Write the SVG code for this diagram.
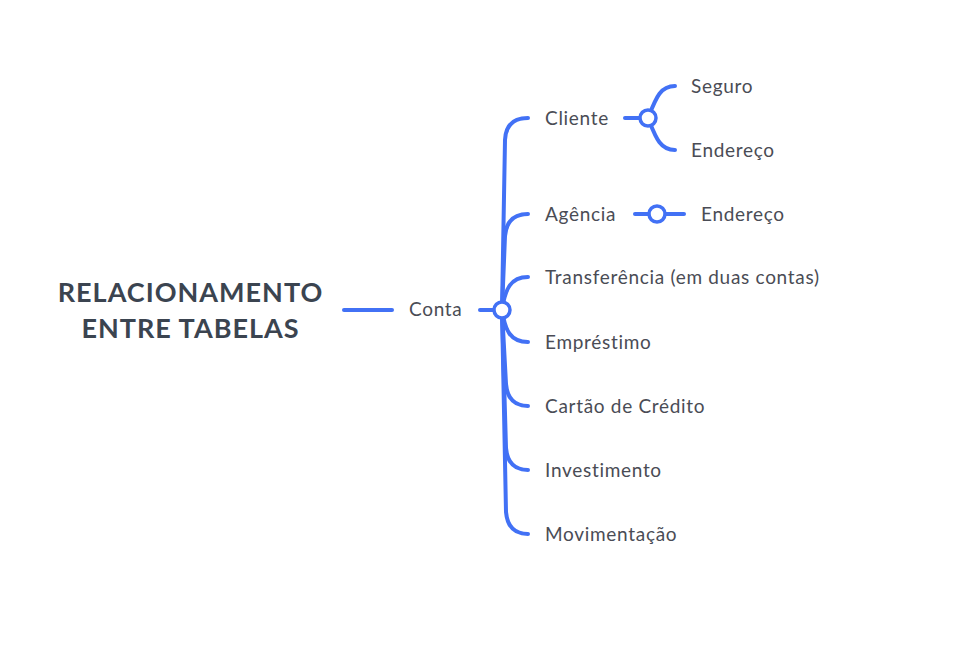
<svg xmlns="http://www.w3.org/2000/svg" width="972" height="652" viewBox="0 0 972 652">
<style>
.c{fill:none;stroke:#4271f5;stroke-width:4;stroke-linecap:round}
.k{fill:#fff;stroke:#4271f5;stroke-width:3.5}
.t{font-family:Lato,"Noto Sans",sans-serif;font-size:19px;letter-spacing:0.7px;fill:#4a4c55}
.h{font-family:Lato,"Noto Sans",sans-serif;font-size:27px;letter-spacing:1px;font-weight:bold;fill:#3b4450;text-anchor:middle}
</style>
<rect width="972" height="652" fill="#fff"/>
<g id="connectors">
<path class="c" d="M344 310 H392"/>
<path class="c" d="M480 310 H494"/>
<path class="c" d="M502 310 L505 140 Q506 118 528 118"/>
<path class="c" d="M502 310 L505 236 Q507 214 528 214"/>
<path class="c" d="M502 310 C505 290 510 277 528 277"/>
<path class="c" d="M502 310 C505 330 510 342 528 342"/>
<path class="c" d="M502 310 L506 384 Q508 406 528 406"/>
<path class="c" d="M502 310 L506 448 Q508 470 528 470"/>
<path class="c" d="M502 310 L506 512 Q508 534 528 534"/>
<path class="c" d="M625 118 H640"/>
<path class="c" d="M648 118 C656 98 660 86 675 86"/>
<path class="c" d="M648 118 C656 138 660 150 675 150"/>
<path class="c" d="M635 214 H684"/>
</g>
<g id="root"><text class="h" x="190.5" y="302">RELACIONAMENTO</text><text class="h" x="190.5" y="338">ENTRE TABELAS</text></g>
<g id="conta"><text class="t" x="409" y="316">Conta</text><circle class="k" cx="502" cy="310" r="8"/></g>
<g id="cliente"><text class="t" x="545" y="125">Cliente</text><circle class="k" cx="648" cy="118" r="8"/></g>
<g id="seguro"><text class="t" x="691" y="93">Seguro</text></g>
<g id="endereco1"><text class="t" x="691" y="157">Endereço</text></g>
<g id="agencia"><text class="t" x="545" y="221">Agência</text><circle class="k" cx="657" cy="214" r="8"/></g>
<g id="endereco2"><text class="t" x="701" y="221">Endereço</text></g>
<g id="transferencia"><text class="t" x="545" y="284">Transferência (em duas contas)</text></g>
<g id="emprestimo"><text class="t" x="545" y="349">Empréstimo</text></g>
<g id="cartao"><text class="t" x="545" y="413">Cartão de Crédito</text></g>
<g id="investimento"><text class="t" x="545" y="477">Investimento</text></g>
<g id="movimentacao"><text class="t" x="545" y="541">Movimentação</text></g>
</svg>
